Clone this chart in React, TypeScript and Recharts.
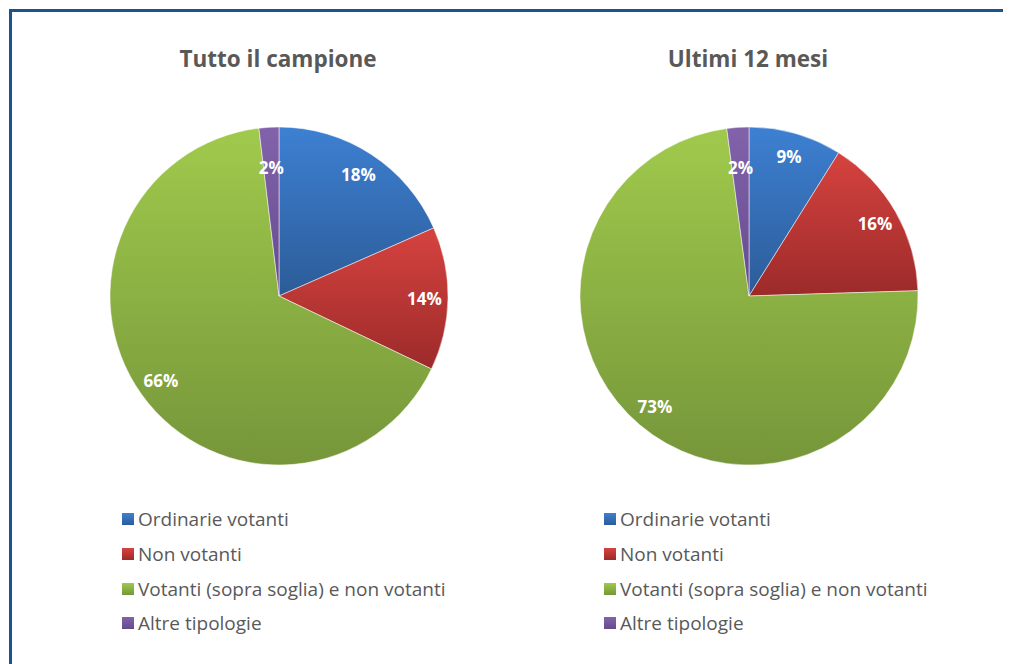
import { PieChart, Pie, Cell, Legend } from "recharts"

const categories = [
    "Ordinarie votanti",
    "Non votanti",
    "Votanti (sopra soglia) e non votanti",
    "Altre tipologie"
]
const tuttoValues = [18.4, 13.7, 66.0, 1.9]
const ultimiValues = [8.9, 15.6, 73.4, 2.1]
const titles = ["Tutto il campione", "Ultimi 12 mesi"]

// top / bottom colours of each slice's vertical gradient
const gradTop = ["#3d80d2", "#d6433f", "#a0ca4c", "#8263ab"]
const gradBottom = ["#2c5c98", "#9c2a2a", "#76963a", "#654a8e"]

const FONT = "'Open Sans', sans-serif"

const toRows = (values: number[]) => categories.map((name, i) => ({ name, value: values[i] }))

const RAD = Math.PI / 180

function renderLabel(props: any) {
    const { cx, cy, midAngle, outerRadius, value } = props
    const r = outerRadius * (value <= 3 ? 0.76 : 0.86)
    const x = cx + r * Math.cos(-midAngle * RAD)
    const y = cy + r * Math.sin(-midAngle * RAD)
    return (
        <text
            x={x}
            y={y}
            fill="#ffffff"
            textAnchor="middle"
            dominantBaseline="central"
            style={{ fontFamily: FONT, fontWeight: 700, fontSize: 17 }}
        >
            {`${Math.round(value)}%`}
        </text>
    )
}

function LegendList({ payload, prefix }: any) {
    // keep the data order, not the alphabetical one
    const items = [...(payload || [])].sort(
        (a: any, b: any) => categories.indexOf(a.value) - categories.indexOf(b.value)
    )
    return (
        <div style={{ fontFamily: FONT, fontSize: 19, color: "#595959" }}>
            {items.map((entry: any) => {
                const i = categories.indexOf(entry.value)
                return (
                    <div key={i} style={{ height: 34.7, display: "flex", alignItems: "center", whiteSpace: "nowrap" }}>
                        <svg width={12} height={12} style={{ marginRight: 4, flex: "none" }}>
                            <rect width={12} height={12} fill={`url(#${prefix}-g${i})`} />
                        </svg>
                        <span>{entry.value}</span>
                    </div>
                )
            })}
        </div>
    )
}

function OnePie({ values, prefix, legendLeft }: { values: number[]; prefix: string; legendLeft: number }) {
    return (
        <PieChart width={470} height={656} margin={{ top: 0, right: 0, bottom: 0, left: 0 }}>
            <defs>
                {gradTop.map((c, i) => (
                    <linearGradient key={i} id={`${prefix}-g${i}`} x1="0" y1="0" x2="0" y2="1">
                        <stop offset="0%" stopColor={c} />
                        <stop offset="100%" stopColor={gradBottom[i]} />
                    </linearGradient>
                ))}
            </defs>
            <Pie
                data={toRows(values)}
                dataKey="value"
                nameKey="name"
                cx={271}
                cy={288}
                outerRadius={169}
                startAngle={90}
                endAngle={-270}
                stroke="#ffffff"
                strokeWidth={0.5}
                label={renderLabel}
                labelLine={false}
                isAnimationActive={false}
            >
                {values.map((_, i) => (
                    <Cell key={i} fill={`url(#${prefix}-g${i})`} />
                ))}
            </Pie>
            <Legend
                layout="vertical"
                align="center"
                verticalAlign="bottom"
                width={400}
                content={(p: any) => <LegendList payload={p.payload} prefix={prefix} />}
                wrapperStyle={{ left: legendLeft, top: 494, bottom: "auto" }}
            />
        </PieChart>
    )
}

export default function App() {
    return (
        <div style={{ position: "relative", width: 1003, height: 656, overflow: "hidden", background: "#fff" }}>
            {/* frame: only top and left edges are visible in the crop */}
            <div
                style={{
                    position: "absolute",
                    left: 1,
                    top: 1,
                    width: 1100,
                    height: 800,
                    borderTop: "3px solid #1b5390",
                    borderLeft: "3px solid #1b5390"
                }}
            />
            {titles.map((t, i) => (
                <div
                    key={t}
                    style={{
                        position: "absolute",
                        left: i * 470 + 70,
                        width: 400,
                        top: 36,
                        textAlign: "center",
                        fontFamily: FONT,
                        fontWeight: 700,
                        fontSize: 22.5,
                        lineHeight: "30px",
                        color: "#595959"
                    }}
                >
                    {t}
                </div>
            ))}
            <div style={{ position: "absolute", left: 0, top: 0 }}>
                <OnePie values={tuttoValues} prefix="a" legendLeft={114} />
            </div>
            <div style={{ position: "absolute", left: 470, top: 0 }}>
                <OnePie values={ultimiValues} prefix="b" legendLeft={126} />
            </div>
        </div>
    )
}
